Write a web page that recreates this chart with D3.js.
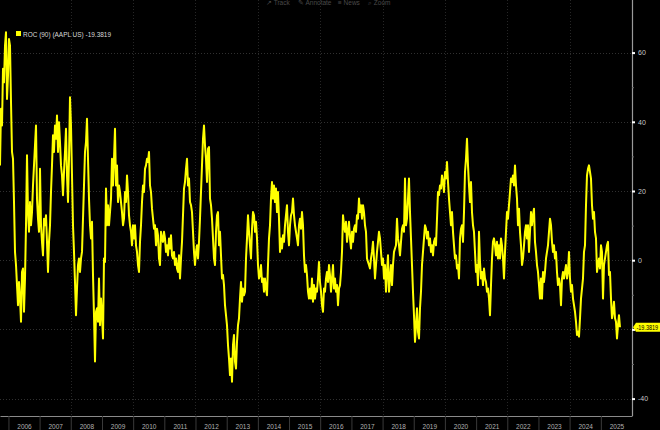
<!DOCTYPE html>
<html><head><meta charset="utf-8">
<script src="https://cdn.jsdelivr.net/npm/d3@7"></script>
<style>html,body{margin:0;padding:0;background:#000;overflow:hidden}svg{display:block;background:#000}</style>
</head><body><svg id="c" width="660" height="430"></svg>
<script>
// ---------------- data ----------------
const seriesName = "ROC (90) (AAPL US)";
const lastValue = -19.3819;
const startDate = new Date(2005, 8, 24);   // first sample
const stepDays = 11.715;                    // regular sampling interval of the series
const yearLabels = d3.range(2006, 2026);
const gridYears = [2008, 2010, 2012, 2014, 2016, 2018, 2020, 2022, 2024];
const yMajor = [-40, -20, 0, 20, 40, 60];
const yMinor = [-30, -10, 10, 30, 50];
const menuItems = ["\u2197 Track", "\u270E Annotate", "\u2261 News", "\u2315 Zoom"];
const roc = [
27.4,43.8,38.9,55.3,51.4,62,65.9,46.6,53.4,63.9,62,45.7,31.3,29.3,16.8,2.4,-1.4,-7.2,-13,-6.3,-11.1,-17.8,-3.4,-2.4,-14.9,-5.3,10.1,30.3,13.9,8.2,16.8,10.1,13.9,21.6,27.4,33.2,38.9,17.8,12,8.2,26.4,10.1,5.3,1.4,12,10.1,13,5.3,-3.4,5.3,10.1,19.7,27.4,36.1,31.3,38.9,35.1,41.8,31.3,39.9,34.1,27.4,24.5,18.8,25.5,31.3,38,24.5,16.8,29.3,47.1,38.9,24.5,10.1,2.4,-6.3,-15.9,-8.2,-1.4,0.5,-3.4,0.5,2.4,12,21.6,31.3,34.1,40.9,29.3,17.8,10.1,6.3,11.1,-4.3,-15.9,-29.3,-14.9,-13.9,-17.8,-5.3,-18.8,-11.1,-15.9,
-22.6,0.5,-0.5,20.7,10.1,15.9,10.1,13.9,17.8,29.3,21.6,29.3,38,21.6,27.4,16.8,21.6,19.7,16.8,13.9,10.1,12,19.7,16.8,24.5,19.7,13,10.1,8.2,4.3,10.1,6.3,10.1,4.3,2.4,-1.4,-3.4,5.3,10.1,16.8,21.6,19.7,26.4,27.4,29.3,28.4,31.3,21.6,19.7,14.9,12,9.1,10.1,4.3,9.1,7.2,0.5,-1.4,8.2,6.3,5.3,8.2,6.3,2.4,4.3,1.4,6.3,3.4,7.2,1.4,0.5,2.4,-1.4,0.5,-2.4,-3.4,1.4,-5.3,0.5,5.3,13,20.7,22.6,26.4,29.3,21.6,23.6,16.8,15.9,13.9,8.2,2.4,-1.4,2.4,4.3,0.5,5.3,12,19.7,27.4,35.1,38.9,33.2,
29.3,22.6,32.2,32.7,17.8,15.9,12,6.3,0.5,-1.4,8.2,13,13.9,4.3,8.2,1.4,-5.3,-4.3,-7.2,-13,-15.9,-18.8,-24.5,-28.4,-33.2,-28.4,-35.1,-24.5,-21.6,-29.3,-31.3,-23.6,-18.8,-16.8,-11.1,-6.3,-12,-8.2,-10.1,-9.1,0.5,6.3,13,8.2,4.3,0.5,9.1,13.9,13,8.2,11.1,6.3,-1.4,-5.3,-4.3,-1.4,-6.3,-5.3,-9.1,-5.3,-8.2,-10.1,-1.4,6.3,10.1,17.8,22.6,17.8,21.6,16.8,20.7,13.9,19.7,12,2.4,6.3,3.4,7.2,5.3,10.1,13,15.9,8.2,4.3,10.1,13,13.9,17.8,13,10.1,8.2,6.3,4.3,10.1,12,9.1,13.9,10.1,1.4,-3.4,-1.4,-4.3,-9.1,
-11.1,-8.2,-11.1,-5.3,-12,-7.2,-11.1,-8.2,-9.1,-5.3,-0.5,-6.3,-9.1,-13,-14.9,-8.2,-9.1,-5.3,-3.4,-6.3,-1.4,-4.3,-9.1,-5.3,-1.4,-8.2,-5.3,-9.1,-7.2,-13,-8.2,-7.2,-3.4,2.4,13,10.1,8.2,11.1,5.3,8.2,11.1,6.3,3.4,8.2,5.3,9.1,10.1,8.2,13,12,17.8,13.9,15.9,12,15.9,13.9,10.1,8.2,0.5,-0.5,-1.4,-2.4,0.5,2.4,5.3,0.5,-5.3,-1.4,2.4,5.3,8.2,6.3,2.4,-1.4,0.5,-5.3,-1.4,-9.1,-3.4,1.4,-9.1,-5.3,-1.4,-7.2,-1.4,2.4,3.4,4.3,12,6.3,4.3,1.4,5.3,9.1,10.1,8.2,23.6,10.1,12,17.8,23.6,13.9,6.3,
-1.4,-9.1,-15.9,-23.6,-18.8,-13.9,-20.7,-22.6,-13.9,-9.1,-1.4,2.4,6.3,10.1,9.1,6.3,8.2,4.3,6.3,2.4,4.3,1.4,5.3,6.3,4.3,12,19.7,18.8,21.6,20.7,24.5,22.6,19.7,25.5,23.6,28.4,22.6,17.8,13.9,10.1,13.9,8.2,4.3,0.5,1.4,-2.4,-1.4,-5.3,6.3,9.1,10.1,5.3,13.9,25.5,29.3,35.1,27.4,21.6,16.8,22.6,13.9,10.1,8.2,2.4,-3.4,-1.4,-7.2,8.2,-0.5,-5.3,-3.4,-7.2,-2.4,-5.3,-6.3,-9.1,-8.2,-11.1,-15.9,-7.2,0.5,5.3,6.3,4.3,1.4,5.3,0.5,4.3,0.5,6.3,4.3,0.5,-5.3,2.4,8.2,13.9,12,15.9,19.7,23.6,22.6,24.5,21.6,
27.4,21.6,17.8,10.1,14.9,8.2,4.3,-1.4,0.5,4.3,8.2,10.1,6.3,10.1,2.4,8.2,13.9,10.1,13,14.9,5.3,2.4,-1.4,-3.4,-7.2,-11.1,-5.3,-11.1,-3.4,-6.3,-3.4,0.5,2.4,4.3,8.2,12,10.1,5.3,2.4,4.3,0.5,2.4,-3.4,-7.2,-5.3,-7.2,-13,-5.3,-3.4,-5.3,-3.4,-1.4,-5.3,-3.4,2.4,-5.3,-9.1,-7.2,-11.1,-13,-14.9,-17.8,-21.6,-20.7,-22.1,-16.8,-11.1,-8.2,-5.3,2.4,4.3,15.9,24.5,26.4,27.4,25.5,23.6,15.9,12,13.9,8.2,6.3,-3.4,-1.4,0.5,-2.4,4.3,2.4,-11.1,-1.4,0.5,2.4,4.3,5.3,-4.3,-3.4,-11.1,-16.8,-14.9,-12,-16.8,-17.8,-22.6,-18.8,-15.9,-19.3819
];

// ---------------- chart ----------------
const W = 660, H = 430;
const plotR = 632, plotB = 416;
const FONT = "'Liberation Sans', Arial, sans-serif";
const svg = d3.select("#c");

const data = roc.map((v, i) => ({ date: new Date(+startDate + i * stepDays * 864e5), value: v }));

const x = d3.scaleTime().domain([startDate, new Date(2026, 0, 1)]).range([0, plotR]);
const y = d3.scaleLinear().domain([-45.03, 75.2]).range([plotB, 0]);

// grid
const grid = svg.append("g");
grid.selectAll("line.h").data(yMajor).join("line")
  .attr("x1", 0).attr("x2", plotR)
  .attr("y1", d => Math.round(y(d)) + 0.5).attr("y2", d => Math.round(y(d)) + 0.5)
  .attr("stroke", "#303030").attr("stroke-width", 1).attr("stroke-dasharray", "1,2");
grid.selectAll("line.v").data(gridYears).join("line")
  .attr("x1", d => Math.round(x(new Date(d, 0, 1))) + 0.5).attr("x2", d => Math.round(x(new Date(d, 0, 1))) + 0.5)
  .attr("y1", 0).attr("y2", plotB)
  .attr("stroke", "#262626").attr("stroke-width", 1).attr("stroke-dasharray", "1,2");

// top menu (faint, at top edge)
svg.append("g").selectAll("text").data(menuItems).join("text")
  .attr("x", (d, i) => [266, 298, 338, 368][i]).attr("y", 5)
  .attr("font-family", FONT).attr("font-size", 6.5).attr("fill", "#4a4a4a")
  .text(d => d);

// line
svg.append("clipPath").attr("id", "clip").append("rect")
  .attr("x", 0).attr("y", 0).attr("width", plotR).attr("height", plotB);
svg.append("path").datum(data)
  .attr("clip-path", "url(#clip)")
  .attr("fill", "none").attr("stroke", "#ffff00").attr("stroke-width", 2)
  .attr("stroke-linejoin", "round")
  .attr("d", d3.line().x(d => x(d.date)).y(d => y(d.value)));

// x axis
const yearDates = yearLabels.map(yr => new Date(yr, 0, 1));
const xAxis = svg.append("g").attr("transform", `translate(0,${plotB})`)
  .call(d3.axisBottom(x).tickValues(yearDates).tickFormat(d3.timeFormat("%Y")).tickSize(14).tickSizeOuter(0));
xAxis.select(".domain").attr("stroke", "#8a8a8a").attr("stroke-width", 1.2);
xAxis.selectAll(".tick line").attr("stroke", "#3a3a3a");
xAxis.selectAll(".tick text")
  .attr("x", d => (x(d3.timeYear.offset(d, 1)) - x(d)) / 2)
  .attr("y", 8).attr("dy", "0.75em")
  .attr("font-family", FONT).attr("font-size", 6.5).attr("fill", "#b0b0b0");

// y axis (the -20 label is covered by the last-value tag, as in the original)
const yAxis = svg.append("g").attr("transform", `translate(${plotR},0)`)
  .call(d3.axisRight(y).tickValues(yMajor).tickSize(3).tickPadding(3).tickSizeOuter(0)
    .tickFormat(d => d === -20 ? "" : d));
yAxis.select(".domain").attr("stroke", "#9a9a9a").attr("stroke-width", 1.2)
  .attr("d", `M0.5,0V${plotB}`);
yAxis.selectAll(".tick line").attr("stroke", "#ffffff").attr("stroke-width", 2);
yAxis.selectAll(".tick text").attr("font-family", FONT).attr("font-size", 7).attr("fill", "#c8c8c8");
const yMinorAxis = svg.append("g").attr("transform", `translate(${plotR},0)`)
  .call(d3.axisRight(y).tickValues(yMinor).tickSize(2).tickFormat(""));
yMinorAxis.select(".domain").remove();
yMinorAxis.selectAll(".tick line").attr("stroke", "#666");

// legend
svg.append("rect").attr("x", 16).attr("y", 31).attr("width", 5).attr("height", 5).attr("fill", "#ffff00");
svg.append("text").attr("x", 23).attr("y", 36.5)
  .attr("font-family", FONT).attr("font-size", 7).attr("fill", "#d8d8d8")
  .attr("textLength", 88).attr("lengthAdjust", "spacingAndGlyphs")
  .text(`${seriesName} ${lastValue}`);

// last value tag
const ly = y(lastValue);
svg.append("path")
  .attr("d", `M${plotR + 1},${ly} L${plotR + 4},${ly - 4.5} L${W},${ly - 4.5} L${W},${ly + 4.5} L${plotR + 4},${ly + 4.5} Z`)
  .attr("fill", "#ffff00");
svg.append("text").attr("x", plotR + 4.5).attr("y", ly + 2.6)
  .attr("font-family", FONT).attr("font-size", 7).attr("fill", "#000")
  .attr("textLength", 21.5).attr("lengthAdjust", "spacingAndGlyphs")
  .text(lastValue);
</script>
</body></html>
